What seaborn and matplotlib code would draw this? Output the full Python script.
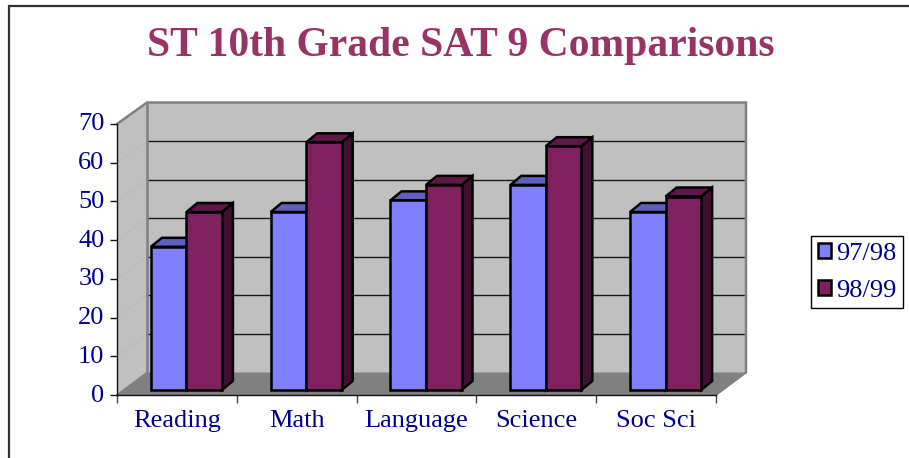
import matplotlib
matplotlib.use("Agg")
import matplotlib.pyplot as plt
import matplotlib.transforms as mtrans
import pandas as pd
import seaborn as sns
from matplotlib.patches import Polygon

categories = ["Reading", "Math", "Language", "Science", "Soc Sci"]
series_names = ["97/98", "98/99"]
values_9798 = [37, 46, 49, 53, 46]
values_9899 = [46, 64, 53, 63, 50]
y_ticks = [0, 10, 20, 30, 40, 50, 60, 70]

W, H = 909, 458
NAVY = "#000090"
FRONT = ["#8080FF", "#802060"]
TOP = ["#6060BF", "#601848"]
SIDE = ["#404080", "#401030"]

sns.set_theme(style="white")
plt.rcParams["font.family"] = ["Liberation Serif", "DejaVu Serif"]

df = pd.DataFrame({
    "category": categories * 2,
    "series": [series_names[0]] * 5 + [series_names[1]] * 5,
    "value": values_9798 + values_9899,
})


def rect(x0, y_top, x1, y_bot):
    return [x0 / W, 1 - y_bot / H, (x1 - x0) / W, (y_bot - y_top) / H]


fig = plt.figure(figsize=(W / 100, H / 100), dpi=100, facecolor="white")

# Background scene in pixel space
bg = fig.add_axes([0, 0, 1, 1])
bg.set_xlim(0, W)
bg.set_ylim(H, 0)
bg.axis("off")
bg.plot([9, 9, W + 2], [H + 2, 6, 6], color="#333333", lw=1.6, solid_joinstyle="miter")

FL, FR, FB, FT = 117, 716, 395, 124     # front plane
BL, BR, BB, BT = 147, 746, 372.5, 102.5 # back plane
bg.add_patch(Polygon([(BL, BT), (BR, BT), (BR, BB), (BL, BB)], fc="#C0C0C0", ec="none"))
bg.add_patch(Polygon([(FL, FT), (BL, BT), (BL, BB), (FL, FB)], fc="#C0C0C0", ec="none"))
bg.add_patch(Polygon([(FL, FB), (BL, BB), (BR, BB), (FR, FB)], fc="#808080", ec="none"))
for t in y_ticks[1:-1]:
    yb = BB + (BT - BB) * t / 70
    yf = FB + (FT - FB) * t / 70
    bg.plot([BL, BR], [yb, yb], color="#1a1a1a", lw=1.0)
    bg.plot([FL, BL], [yf, yb], color="#B8B8B8", lw=0.5)
edge = dict(color="#808080", lw=1.8, solid_joinstyle="miter")
bg.plot([FL, BL, BR, BR], [FT, BT, BT, BB], **edge)
bg.plot([BL, BL], [BT, BB], **edge)
bg.plot([BR, FR], [BB, FB], color="#808080", lw=1.4)
bg.plot([FL, BL], [FB, BB], color="#808080", lw=1.2)

# Axis frame on the front plane
fr = fig.add_axes(rect(FL, FT, FR, FB))
fr.patch.set_alpha(0)
fr.set_xlim(-0.5, 4.5)
fr.set_ylim(0, 70)
for s in ("top", "right"):
    fr.spines[s].set_visible(False)
for s in ("left", "bottom"):
    fr.spines[s].set_color("#111111")
    fr.spines[s].set_linewidth(1.0)
fr.set_yticks(y_ticks)
fr.set_xticks([i - 0.5 for i in range(6)])
fr.set_xticklabels([])
fr.set_xticks(range(5), categories, minor=True)
fr.tick_params(axis="y", which="major", left=True, length=5, width=1, color="#111111",
               labelsize=19, labelcolor=NAVY, pad=4)
fr.tick_params(axis="x", which="major", bottom=True, length=5.5, width=1, color="#444444")
fr.tick_params(axis="x", which="minor", bottom=False, length=0, labelsize=19,
               labelcolor=NAVY, pad=11)
up = mtrans.ScaledTranslation(0, 2 / 100, fig.dpi_scale_trans)
for lab in fr.get_yticklabels():
    lab.set_transform(lab.get_transform() + up)

# Bars on a plane pushed back into the depth
ax = fig.add_axes(rect(126.5, 390 - 270.9, 725.5, 390))
ax.patch.set_alpha(0)
sns.barplot(data=df, x="category", y="value", hue="series", order=categories,
            hue_order=series_names, palette=FRONT, width=0.593, gap=0,
            saturation=1, edgecolor="black", linewidth=1.8, ax=ax)
ax.set_xlim(-0.5, 4.5)
ax.set_ylim(0, 70)
ax.axis("off")

DX = 11 / 119.8
DY = 9 / 3.87
for s, cont in enumerate(ax.containers):
    for bar in cont:
        x0, x1 = bar.get_x(), bar.get_x() + bar.get_width()
        h = bar.get_height()
        bar.set_zorder(3 + 2 * s)
        bar.set_joinstyle("miter")
        bar.set_clip_on(False)
        style = dict(ec="black", lw=1.8, joinstyle="miter", clip_on=False, zorder=2 + 2 * s)
        ax.add_patch(Polygon([(x1, 0), (x1 + DX, DY), (x1 + DX, h + DY), (x1, h)], fc=SIDE[s], **style))
        ax.add_patch(Polygon([(x0, h), (x0 + DX, h + DY), (x1 + DX, h + DY), (x1, h)], fc=TOP[s], **style))

handles, labels = ax.get_legend_handles_labels()
leg = ax.legend(handles, labels, loc="upper left",
                bbox_to_anchor=(811 / W, 1 - 236 / H), bbox_transform=fig.transFigure,
                fontsize=19, frameon=True, fancybox=False, edgecolor="black", framealpha=1,
                handlelength=0.5, handleheight=0.5, handletextpad=0.2, labelspacing=0.57,
                borderpad=0.25, borderaxespad=0, labelcolor=NAVY, title=None)
leg.get_frame().set_linewidth(1.0)
leg.set_clip_on(False)
for p in leg.get_patches():
    p.set_edgecolor("black")
    p.set_linewidth(1.8)

fig.text(461 / W, 1 - 46 / H, "ST 10th Grade SAT 9 Comparisons", ha="center", va="center",
         fontsize=30, fontweight="bold", color="#993366")

fig.savefig("out.png", dpi=100)
